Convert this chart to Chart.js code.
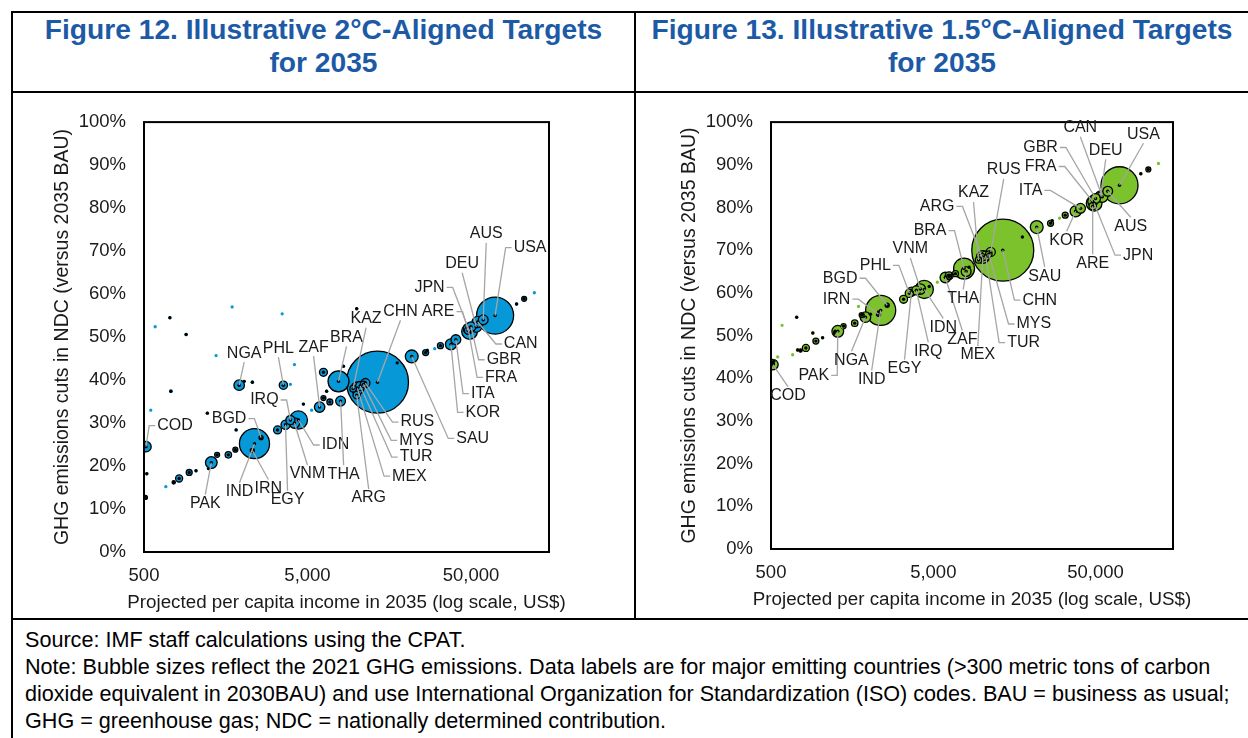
<!DOCTYPE html>
<html>
<head>
<meta charset="utf-8">
<script src="https://cdn.jsdelivr.net/npm/chart.js@4.4.1/dist/chart.umd.min.js"></script>
<style>
  body { margin: 0; background: #fff; font-family: "Liberation Sans", Arial, sans-serif; }
  #page { position: relative; width: 1248px; height: 738px; overflow: hidden; }
  .ln { position: absolute; background: #000; }
  .ttl { position: absolute; top: 13px; text-align: center; font-weight: bold; font-size: 28.2px; line-height: 33px; color: #1d5aa6; }
  .box { position: absolute; top: 93px; }
  #notes { position: absolute; left: 25px; top: 626px; font-size: 21.6px; line-height: 27px; color: #000; white-space: nowrap; }
</style>
</head>
<body>
<div id="page">
  <div class="ln" style="left:11px;top:11px;width:1237px;height:2px"></div>
  <div class="ln" style="left:11px;top:11px;width:2px;height:727px"></div>
  <div class="ln" style="left:11px;top:91px;width:1237px;height:2px"></div>
  <div class="ln" style="left:634px;top:11px;width:2px;height:608px"></div>
  <div class="ln" style="left:11px;top:618px;width:1237px;height:2px"></div>

  <div class="ttl" style="left:13px;width:621px">Figure 12. Illustrative 2°C-Aligned Targets<br>for 2035</div>
  <div class="ttl" style="left:636px;width:612px">Figure 13. Illustrative 1.5°C-Aligned Targets<br>for 2035</div>

  <div class="box" style="left:13px"><canvas id="fig12" width="621" height="525"></canvas></div>
  <div class="box" style="left:636px"><canvas id="fig13" width="612" height="525"></canvas></div>

  <div id="notes">Source: IMF staff calculations using the CPAT.<br>Note: Bubble sizes reflect the 2021 GHG emissions. Data labels are for major emitting countries (&gt;300 metric tons of carbon<br>dioxide equivalent in 2030BAU) and use International Organization for Standardization (ISO) codes. BAU = business as usual;<br>GHG = greenhouse gas; NDC = nationally determined contribution.</div>
</div>

<script>
// major emitters (labelled)
const majorIso = ['COD','PAK','NGA','IND','IRN','BGD','EGY','PHL','IRQ','VNM','IDN','ZAF','BRA','THA','KAZ','ARG',
                  'MEX','TUR','MYS','RUS','CHN','SAU','KOR','ITA','ARE','FRA','JPN','GBR','DEU','CAN','AUS','USA'];
const majorIncome = [514, 1290, 1910, 2370, 2300, 2600, 3670, 3560, 3930, 4160, 4400, 5930, 7740, 7970, 9500, 10000,
                     10100, 10500, 11000, 11300, 13400, 21700, 37700, 40400, 48000, 48000, 49000, 50000, 53800, 55000, 59400, 70200];
const majorCut2C = [24.5, 20.8, 38.8, 25.2, 23.6, 26.6, 29.6, 38.8, 30.7, 30.0, 30.7, 33.7, 39.7, 35.1, 38.0, 36.5,
                    38.1, 38.6, 39.0, 39.3, 39.5, 45.5, 48.3, 49.4, 51.5, 52.0, 51.3, 52.4, 52.4, 53.5, 54.0, 55.0];
const majorCut15C = [43.2, 51.0, 54.3, 55.9, 55.0, 57.1, 60.3, 59.9, 60.6, 60.9, 60.8, 63.6, 65.7, 65.0, 67.7, 68.3,
                     68.4, 68.7, 69.1, 69.6, 70.0, 75.4, 79.1, 79.8, 80.3, 81.4, 81.0, 82.1, 82.6, 82.5, 83.8, 85.2];
const majorGhg = [400, 500, 400, 3300, 60, 60, 300, 250, 300, 400, 1200, 400, 1600, 350, 150, 200,
                  600, 300, 150, 300, 14000, 600, 450, 350, 200, 350, 900, 350, 450, 450, 350, 5000];

// other economies (no label)
const otherIncome = [510, 520, 720, 585, 905, 1730, 3500, 10000, 730, 550, 1220, 2050, 2300, 1380, 3930, 4160,
                     6260, 6550, 6260, 6850, 4720, 5300, 3280, 1830, 1810, 1640, 1400, 1240, 1040, 945, 820, 760,
                     680, 8300, 26400, 27000, 30000, 32500, 95000, 105700, 122000, 17700];
const otherCut2C = [12.7, 18.2, 54.5, 52.4, 50.6, 57.0, 55.4, 56.6, 37.4, 33.0, 32.3, 39.7, 39.5, 45.7, 39.0, 43.6,
                    41.8, 37.4, 35.8, 34.9, 34.4, 33.0, 28.4, 28.4, 23.8, 22.6, 22.6, 19.4, 18.9, 18.5, 17.1, 16.2,
                    15.2, 43.2, 46.4, 46.9, 47.3, 48.0, 57.7, 58.9, 60.3, 44.0];
const otherCut15C = [43.5, 44.0, 54.3, 52.4, 50.6, 56.8, 59.5, 68.0, 46.6, 45.0, 50.5, 55.0, 55.5, 52.0, 60.0, 60.5,
                     64.0, 64.3, 63.8, 64.5, 61.5, 62.5, 58.5, 55.0, 54.8, 52.9, 52.2, 51.0, 49.5, 48.7, 47.1, 46.5,
                     45.5, 66.0, 76.3, 76.9, 77.5, 78.2, 87.9, 88.9, 90.3, 73.1];
const otherGhg = [60, 10, 15, 2, 20, 2, 2, 10, 25, 2, 5, 10, 20, 2, 3, 2,
                  230, 10, 90, 130, 10, 2, 230, 10, 90, 150, 90, 10, 5, 130, 180, 40,
                  3, 10, 130, 20, 3, 130, 20, 90, 2, 10];

const xTickValues = [500, 5000, 50000];

// label placement (pixels from the bubble centre)
const labelOffsets12 = {
  COD:[29,-21], PAK:[-6,41], NGA:[5,-32], IND:[-15,48], IRN:[16,38], BGD:[-32,-19], EGY:[2,75], PHL:[-5,-37],
  IRQ:[-26,-20], VNM:[13,51], IDN:[37,25], ZAF:[-6,-60], BRA:[8,-44], THA:[3,73], KAZ:[13,-70], ARG:[12,103],
  MEX:[52,88], TUR:[56,71], MYS:[53,56], RUS:[52,39], CHN:[23,-71], SAU:[61,82], KOR:[32,68], ITA:[27,54],
  ARE:[-30,-19], FRA:[33,49], JPN:[-40,-44], GBR:[33,33], DEU:[-14,-63], CAN:[43,22], AUS:[3,-86], USA:[35,-68]
};
const labelOffsets13 = {
  COD:[15,31], PAK:[-24,44], NGA:[-14,43], IND:[-9,69], IRN:[-42,-15], BGD:[-47,-27], EGY:[-7,77], PHL:[-34,-28],
  IRQ:[12,61], VNM:[-10,-40], IDN:[19,38], ZAF:[17,62], BRA:[-34,-38], THA:[-3,27], KAZ:[-5,-67], ARG:[-45,-51],
  MEX:[-5,98], TUR:[38,87], MYS:[45,70], RUS:[13,-82], CHN:[37,50], SAU:[8,49], KOR:[-9,29], ITA:[-50,-18],
  ARE:[0,57], FRA:[-52,-35], JPN:[44,52], GBR:[-55,-51], DEU:[5,-46], CAN:[-22,-69], AUS:[23,35], USA:[24,-51]
};

const BUBBLE_K = 0.262; // px per sqrt(MtCO2e)
const FONT = '"Liberation Sans", Arial, sans-serif';
Chart.defaults.font.family = FONT;
Chart.defaults.font.size = 18.5;
Chart.defaults.color = '#1a1a1a';

function buildPoints(cuts) {
  const pts = [];
  majorIncome.forEach((v, i) => pts.push({ x: v, y: cuts.major[i], r: BUBBLE_K * Math.sqrt(majorGhg[i]), g: majorGhg[i] }));
  otherIncome.forEach((v, i) => pts.push({ x: v, y: cuts.other[i], r: BUBBLE_K * Math.sqrt(otherGhg[i]), g: otherGhg[i] }));
  pts.forEach(p => { p.r = Math.max(p.r, 1); });
  return pts.sort((a, b) => b.r - a.r);
}

const framePlugin = {
  id: 'plotFrame',
  afterDatasetsDraw(chart) {
    const { ctx, chartArea: a } = chart;
    ctx.save();
    ctx.strokeStyle = '#000';
    ctx.lineWidth = 2;
    ctx.strokeRect(a.left, a.top, a.right - a.left, a.bottom - a.top);
    ctx.restore();
  }
};

// x title drawn by hand: Chart.js squeezes titles wider than the axis
const xTitlePlugin = {
  id: 'xTitle',
  afterDraw(chart, args, opts) {
    const { ctx, chartArea: a } = chart;
    ctx.save();
    ctx.font = opts.size + 'px ' + FONT;
    ctx.fillStyle = '#1a1a1a';
    ctx.textAlign = 'center';
    ctx.textBaseline = 'middle';
    ctx.fillText(opts.text, (a.left + a.right) / 2, opts.y);
    ctx.restore();
  }
};

const labelPlugin = {
  id: 'isoLabels',
  afterDatasetsDraw(chart, args, opts) {
    const { ctx, scales: { x, y } } = chart;
    ctx.save();
    ctx.font = '16px ' + FONT;
    ctx.textAlign = 'center';
    ctx.textBaseline = 'middle';
    majorIso.forEach((code, i) => {
      const off = opts.offsets[code];
      if (!off) return;
      const px = x.getPixelForValue(majorIncome[i]);
      const py = y.getPixelForValue(opts.cuts[i]);
      const lx = px + off[0], ly = py + off[1];
      const hw = ctx.measureText(code).width / 2 + 2, hh = 9;
      ctx.strokeStyle = '#a6a6a6';
      ctx.lineWidth = 1.3;
      ctx.beginPath();
      if (Math.abs(off[0]) > hw + 6 && Math.abs(off[1]) < 3 * Math.abs(off[0])) {
        const sx = lx - Math.sign(off[0]) * hw;
        ctx.moveTo(sx, ly);
        ctx.lineTo(sx - Math.sign(off[0]) * 6, ly);
      } else {
        ctx.moveTo(lx, ly - Math.sign(off[1]) * hh);
      }
      ctx.lineTo(px, py);
      ctx.stroke();
      ctx.fillStyle = '#1a1a1a';
      ctx.fillText(code, lx, ly);
    });
    ctx.restore();
  }
};

function makeChart(id, cuts, fill, offsets, lay) {
  const pts = buildPoints(cuts);
  return new Chart(document.getElementById(id), {
    type: 'bubble',
    data: {
      datasets: [{
        type: 'scatter',
        data: pts.filter(p => p.g >= 5).map(p => ({ x: p.x, y: p.y })),
        pointRadius: 1.7,
        pointBackgroundColor: '#000',
        pointBorderWidth: 0,
        clip: 0,
        order: 0
      }, {
        data: pts,
        backgroundColor: fill,
        borderColor: c => (c.raw && c.raw.r < 1.5 ? fill : '#000'),
        borderWidth: 1.3,
        clip: 0,
        order: 1
      }]
    },
    options: {
      responsive: false,
      animation: false,
      events: [],
      layout: { autoPadding: false, padding: { left: 0, right: lay.right, top: lay.top, bottom: 0 } },
      plugins: {
        legend: { display: false },
        tooltip: { enabled: false },
        isoLabels: { offsets: offsets, cuts: cuts.major },
        xTitle: { text: 'Projected per capita income in 2035 (log scale, US$)', size: 18.8, y: lay.xTitleY }
      },
      scales: {
        x: {
          type: 'logarithmic',
          min: 500,
          max: 150000,
          grid: { display: false, drawTicks: false },
          border: { display: false },
          afterBuildTicks: s => { s.ticks = xTickValues.map(v => ({ value: v })); },
          afterFit: s => { s.height = lay.xHeight; },
          ticks: { padding: 13, maxRotation: 0, callback: v => Number(v).toLocaleString('en-US') }
        },
        y: {
          min: 0,
          max: 100,
          grid: { display: false, drawTicks: false },
          border: { display: false },
          afterFit: s => { s.width = lay.yWidth; },
          ticks: { stepSize: 10, padding: 18, callback: v => v + '%' },
          title: { display: true, text: 'GHG emissions cuts in NDC (versus 2035 BAU)', font: { size: 19.5 },
                   padding: { top: lay.yTitlePad, bottom: 0 }, color: '#1a1a1a' }
        }
      }
    },
    plugins: [framePlugin, labelPlugin, xTitlePlugin]
  });
}

makeChart('fig12', { major: majorCut2C, other: otherCut2C }, '#0798d8', labelOffsets12,
  { right: 85, top: 26, xHeight: 66, yWidth: 131, xTitleY: 510, yTitlePad: 38 });
makeChart('fig13', { major: majorCut15C, other: otherCut15C }, '#7cc22c', labelOffsets13,
  { right: 75, top: 25, xHeight: 69, yWidth: 135, xTitleY: 507, yTitlePad: 42 });
</script>
</body>
</html>
